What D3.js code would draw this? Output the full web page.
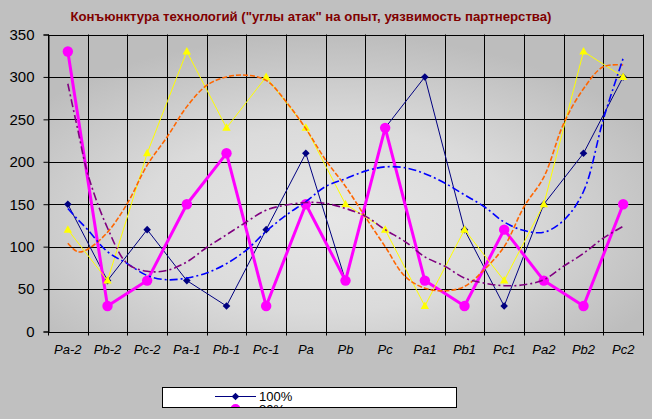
<!DOCTYPE html>
<html><head><meta charset="utf-8">
<script src="https://cdn.jsdelivr.net/npm/d3@7"></script>
<style>html,body{margin:0;padding:0;background:#c0c0c0;}svg{display:block;}</style>
</head><body>
<svg id="chart" width="652" height="419"></svg>
<script>
const categories = ["Pa-2","Pb-2","Pc-2","Pa-1","Pb-1","Pc-1","Pa","Pb","Pc","Pa1","Pb1","Pc1","Pa2","Pb2","Pc2"];
const yTicks = [0,50,100,150,200,250,300,350];
const series100 = [150,60,120,60,30,120,210,60,240,300,120,30,150,210,300];
const series80  = [330,30,60,150,210,30,150,60,240,60,30,120,60,30,150];
const series60  = [120,60,210,330,240,300,240,150,120,30,120,60,150,330,300];
const seriesNames = ["100%","80%","60%"];
const titleText = "Конъюнктура технологий (\"углы атак\" на опыт, уязвимость партнерства)";

// trend lines: [category index position, value]
const trendIdx = [0,0.25,0.5,1,1.5,2,2.5,3,3.5,4,4.5,5,5.5,6,6.5,7,7.5,8,8.5,9,9.5,10,10.5,11,11.5,12,12.5,13,13.5,14];
const trendOrange = [104,94,97,117,151,196,229,265,290,300,302,296,271,239,202,171,135,100,65,51,48,53,73,100,147,182,245,286,312,314];
const trendBlue   = [145,132,120,94,80,66,61,63,69,80,96,118,137,153,171,180,189,194,193,186,175,161,147,129,119,117,131,165,250,322];
const trendPurple = [292,238,186,122,80,71,72,82,99,114,129,143,149,152,151,145,136,120,106,88,77,63,57,54,55,61,77,92,110,124];

const svg = d3.select("#chart");
const L = 48, R = 643, T = 34.5, B = 331.5;

const x = d3.scaleBand().domain(categories).range([L, R]).padding(0);
const xc = c => x(c) + x.bandwidth() / 2;
const xi = d3.scaleLinear().domain([-0.5, categories.length - 0.5]).range([L, R]);
const y = d3.scaleLinear().domain([0, 350]).range([B, T]);

const defs = svg.append("defs");
const grad = defs.append("radialGradient").attr("id", "bg")
  .attr("cx", "47%").attr("cy", "62%").attr("r", "62%").attr("fx", "47%").attr("fy", "62%");
grad.append("stop").attr("offset", "0%").attr("stop-color", "#e6e6e6");
grad.append("stop").attr("offset", "50%").attr("stop-color", "#dbdbdb");
grad.append("stop").attr("offset", "100%").attr("stop-color", "#bdbdbd");
defs.append("clipPath").attr("id", "legclip").attr("clipPathUnits", "userSpaceOnUse")
  .append("rect").attr("x", 163).attr("y", 388).attr("width", 293).attr("height", 19);

svg.append("rect").attr("width", 652).attr("height", 419).attr("fill", "#c0c0c0");
svg.append("rect").attr("x", L).attr("y", T).attr("width", R - L).attr("height", B - T).attr("fill", "url(#bg)");

// title
svg.append("text").attr("x", 311).attr("y", 21).attr("text-anchor", "middle")
  .attr("font-family", "Liberation Sans, Arial, sans-serif").attr("font-weight", "bold")
  .attr("font-size", 13.2).attr("fill", "#800000").text(titleText);

// gridlines
const boundaries = d3.range(categories.length + 1).map(i => i - 0.5);
svg.append("g").selectAll("line").data(yTicks).join("line")
  .attr("x1", L).attr("x2", R).attr("y1", d => Math.round(y(d)) + 0.5).attr("y2", d => Math.round(y(d)) + 0.5)
  .attr("stroke", "#000").attr("stroke-width", 1);
svg.append("g").selectAll("line").data(boundaries).join("line")
  .attr("x1", d => Math.round(xi(d)) + 0.5).attr("x2", d => Math.round(xi(d)) + 0.5)
  .attr("y1", T).attr("y2", B + 4)
  .attr("stroke", "#000").attr("stroke-width", 1);

// y axis
const yAxis = svg.append("g").attr("transform", `translate(${L + 0.5},0)`)
  .call(d3.axisLeft(y).tickValues(yTicks).tickSize(5).tickPadding(9));
yAxis.selectAll("text").attr("font-family", "Liberation Sans, Arial, sans-serif").attr("font-size", 15).attr("fill", "#000");
yAxis.selectAll("line").attr("stroke", "#000");
yAxis.select(".domain").attr("stroke", "#000");

// x axis labels
const xAxis = svg.append("g").attr("transform", `translate(0,${B})`)
  .call(d3.axisBottom(x).tickSize(0).tickPadding(13));
xAxis.select(".domain").remove();
xAxis.selectAll("text").attr("font-family", "Liberation Sans, Arial, sans-serif").attr("font-size", 13)
  .attr("font-style", "italic").attr("fill", "#000");

const lineGen = d3.line().x((d, i) => xc(categories[i])).y(d => y(d));
const diamond = "M0,-3.8L3.8,0L0,3.8L-3.8,0Z";
const triangle = "M0,-4.5L4.2,3L-4.2,3Z";

// series 100%
svg.append("path").datum(series100).attr("d", lineGen).attr("fill", "none").attr("stroke", "#000080").attr("stroke-width", 1);
svg.append("g").selectAll("path").data(series100).join("path")
  .attr("transform", (d, i) => `translate(${xc(categories[i])},${y(d)})`).attr("d", diamond).attr("fill", "#000080");

// series 80%
svg.append("path").datum(series80).attr("d", lineGen).attr("fill", "none").attr("stroke", "#ff00ff").attr("stroke-width", 3).attr("stroke-linejoin", "round");
svg.append("g").selectAll("circle").data(series80).join("circle")
  .attr("cx", (d, i) => xc(categories[i])).attr("cy", d => y(d)).attr("r", 5.2).attr("fill", "#ff00ff");

// series 60%
svg.append("path").datum(series60).attr("d", lineGen).attr("fill", "none").attr("stroke", "#ffff00").attr("stroke-width", 1);
svg.append("g").selectAll("path").data(series60).join("path")
  .attr("transform", (d, i) => `translate(${xc(categories[i])},${y(d)})`).attr("d", triangle).attr("fill", "#ffff00");

// trend lines
const trendGen = d3.line().x((d, i) => xi(trendIdx[i])).y(d => y(d)).curve(d3.curveCatmullRom);
const trends = [
  {data: trendOrange, color: "#ff6600", dash: "5,2"},
  {data: trendBlue, color: "#0000ff", dash: "8,3,2,3"},
  {data: trendPurple, color: "#800080", dash: "8,3,2,3"}
];
trends.forEach(t => {
  svg.append("path").datum(t.data).attr("d", trendGen).attr("fill", "none")
    .attr("stroke", t.color).attr("stroke-width", 1.6).attr("stroke-dasharray", t.dash);
});

// legend (clipped as in the original)
const leg = svg.append("g");
leg.append("rect").attr("x", 162.5).attr("y", 387.5).attr("width", 294).attr("height", 20).attr("fill", "#fff").attr("stroke", "#000");
const legItems = leg.append("g").attr("clip-path", "url(#legclip)");
const legColors = ["#000080", "#ff00ff", "#ffff00"];
seriesNames.forEach((name, i) => {
  const ly = 396.5 + i * 12.5;
  const g = legItems.append("g");
  g.append("line").attr("x1", 215).attr("x2", 256).attr("y1", ly).attr("y2", ly)
    .attr("stroke", legColors[i]).attr("stroke-width", i === 1 ? 3 : 1.2);
  if (i === 0) g.append("path").attr("transform", `translate(235.5,${ly})`).attr("d", diamond).attr("fill", legColors[i]);
  if (i === 1) g.append("circle").attr("cx", 235.5).attr("cy", ly).attr("r", 5).attr("fill", legColors[i]);
  if (i === 2) g.append("path").attr("transform", `translate(235.5,${ly})`).attr("d", triangle).attr("fill", legColors[i]);
  g.append("text").attr("x", 259).attr("y", ly + 4.8).attr("font-family", "Liberation Sans, Arial, sans-serif")
    .attr("font-size", 13).attr("fill", "#000").text(name);
});
</script>
</body></html>
